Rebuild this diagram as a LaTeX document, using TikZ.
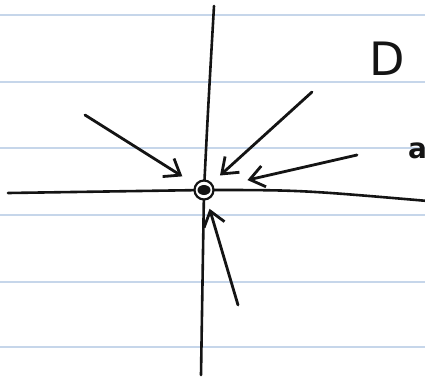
\documentclass[tikz,border=0pt]{standalone}
\usepackage{fontspec}
\usepackage{xcolor}
\usepackage{tikz}
\usetikzlibrary{arrows.meta,calc}
\setsansfont{DejaVu Sans}
\definecolor{ink}{HTML}{141414}
\definecolor{rule}{HTML}{C6D6EA}

\begin{document}
\begin{tikzpicture}[
  x=1pt, y=-1pt,
  ruling/.style={draw=rule, line width=2.5pt},
  axis/.style={draw=ink, line width=2.6pt, line cap=round},
  arr/.style={draw=ink, line width=2.8pt, line cap=round,
              -{Straight Barb[length=5mm, width=7.5mm, line width=2.8pt]}},
  hubring/.style={circle, draw=ink, fill=white, line width=2.2pt,
                  minimum width=19pt, minimum height=19pt, inner sep=0pt},
  hand/.style={font=\sffamily\fontsize{46}{46}\selectfont, text=ink}
]

\useasboundingbox (0,0) rectangle (425,381);
\clip (0,0) rectangle (425,381);

% paper
\foreach \y in {15, 82, 148, 215, 282, 347}
  \draw[ruling] (0,\y) -- (425,\y);

% axes
\coordinate (ytop) at (214,6);
\coordinate (ybot) at (201,375);
\coordinate (xlft) at (8,193);
\coordinate (xrgt) at (428,201);
\coordinate (o)    at (204,190);

\draw[axis] (ytop) .. controls (208,110) .. (o) -- (ybot);
\draw[axis] (xlft) -- (o) .. controls (300,190) .. (xrgt);

\node[hubring] (hub) at (o) {};
\fill[ink] (hub.center) ellipse (6.5pt and 5pt);

% incoming arrows
\coordinate (sa) at (85,115);
\coordinate (sb) at (312,92);
\coordinate (sc) at (357,155);
\coordinate (sd) at (238,305);

\foreach \s/\g in {sa/15, sb/11, sc/34, sd/9}
  \draw[arr, shorten >=\g pt] (\s) -- (hub);

% text
\node[hand, anchor=base west] (lblD) at (366,75) {D};
\node[font=\sffamily\bfseries\fontsize{28}{28}\selectfont, text=ink, anchor=base west, inner sep=0pt] (lbla) at (408,158) {a};

\end{tikzpicture}
\end{document}
